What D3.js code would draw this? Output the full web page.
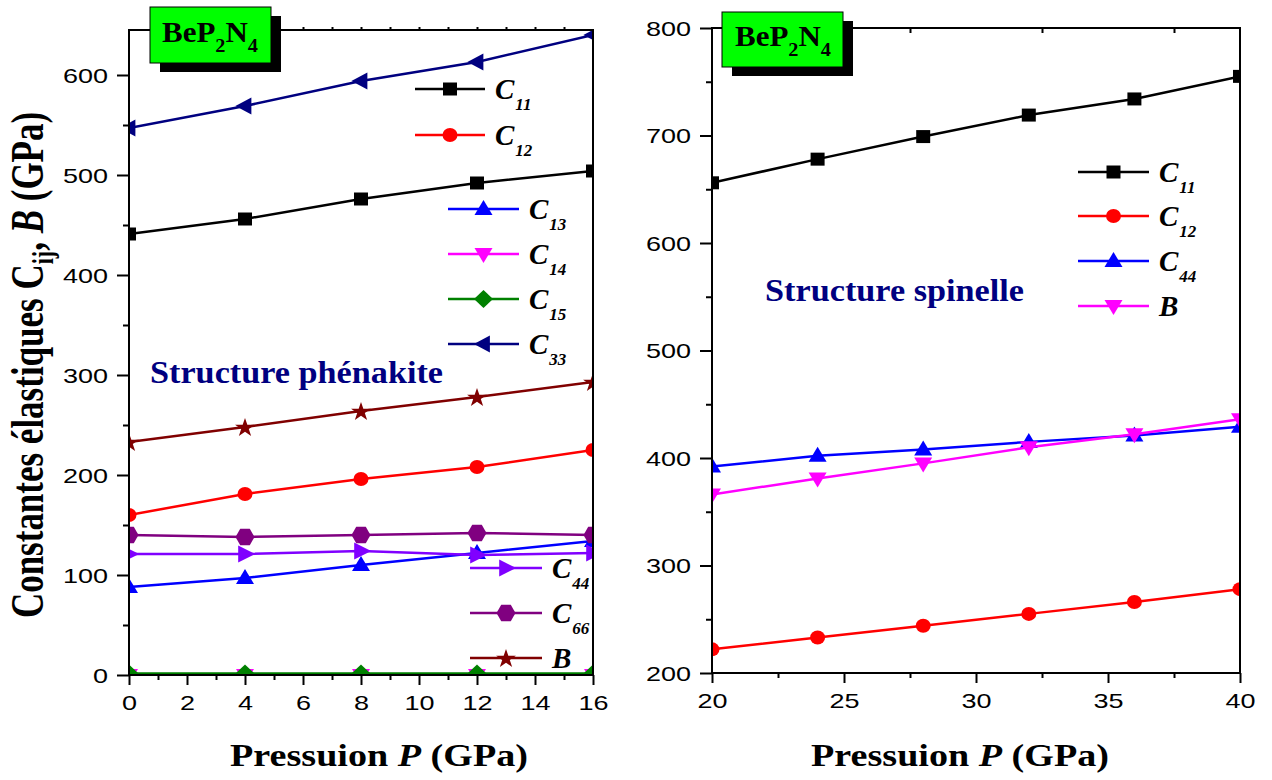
<!DOCTYPE html>
<html>
<head>
<meta charset="utf-8">
<script src="https://cdn.jsdelivr.net/npm/d3@7"></script>
<style>
  body { margin: 0; background: #fff; }
  svg { display: block; }
</style>
</head>
<body>
<svg id="chart" width="1272" height="780"></svg>
<script>
// ---- Phase phénakite (0–16 GPa) ----
const pressurePhen = [0, 4, 8, 12, 16];
const c11Phen = [441, 456, 476, 492, 504];
const c12Phen = [160, 181, 196, 208, 225];
const c13Phen = [88, 97, 110, 122, 134];
const c14Phen = [0, 0, 0, 0, 0];
const c15Phen = [1.5, 1.5, 1.5, 1.5, 1.5];
const c33Phen = [547, 569, 594, 613, 640];
const c44Phen = [121, 121, 124, 120, 122];
const c66Phen = [140, 138, 140, 142, 140];
const bPhen = [233, 248, 264, 278, 293];

// ---- Phase spinelle (20–40 GPa) ----
const pressureSpin = [20, 24, 28, 32, 36, 40];
const c11Spin = [656, 678, 699, 719, 734, 755];
const c12Spin = [222, 233, 244, 255, 266, 278];
const c44Spin = [392, 402, 408, 415, 421, 429];
const bSpin = [366, 381, 395, 410, 422, 436];

// ---- Tick values ----
const xTicksPhen = [0, 2, 4, 6, 8, 10, 12, 14, 16];
const xMinorPhen = [1, 3, 5, 7, 9, 11, 13, 15];
const xTopPhen = [1, 2, 3, 4, 5, 6, 7, 8, 9, 10, 11, 12, 13, 14, 15];
const yTicksPhen = [0, 100, 200, 300, 400, 500, 600];
const yMinorPhen = [50, 150, 250, 350, 450, 550];
const xTicksSpin = [20, 25, 30, 35, 40];
const xMinorSpin = [22.5, 27.5, 32.5, 37.5];
const yTicksSpin = [200, 300, 400, 500, 600, 700, 800];
const yMinorSpin = [250, 350, 450, 550, 650, 750];

const svg = d3.select("#chart");
const SERIF = "'Liberation Serif', 'Times New Roman', serif";
const SANS = "'Liberation Sans', Arial, sans-serif";

// Marker shapes drawn in a unit box, scaled per series
const shapes = {
  square: { draw(c) { c.rect(-0.5, -0.5, 1, 1); } },
  circle: { draw(c) { c.moveTo(0.5, 0); c.arc(0, 0, 0.5, 0, 2 * Math.PI); } },
  up: { draw(c) { c.moveTo(0, -0.6); c.lineTo(0.5, 0.4); c.lineTo(-0.5, 0.4); c.closePath(); } },
  down: { draw(c) { c.moveTo(0, 0.6); c.lineTo(0.5, -0.4); c.lineTo(-0.5, -0.4); c.closePath(); } },
  left: { draw(c) { c.moveTo(-0.6, 0); c.lineTo(0.4, -0.5); c.lineTo(0.4, 0.5); c.closePath(); } },
  right: { draw(c) { c.moveTo(0.6, 0); c.lineTo(-0.4, -0.5); c.lineTo(-0.4, 0.5); c.closePath(); } },
  diamond: { draw(c) { c.moveTo(0, -0.5); c.lineTo(0.5, 0); c.lineTo(0, 0.5); c.lineTo(-0.5, 0); c.closePath(); } },
  hexagon: { draw(c) {
    for (let i = 0; i < 6; i++) {
      const a = i * Math.PI / 3, px = 0.5 * Math.cos(a), py = 0.5 * Math.sin(a);
      if (i) c.lineTo(px, py); else c.moveTo(px, py);
    }
    c.closePath();
  } },
  star: { draw(c) {
    for (let i = 0; i < 10; i++) {
      const r = i % 2 ? 0.21 : 0.55, a = -Math.PI / 2 + i * Math.PI / 5;
      const px = r * Math.cos(a), py = r * Math.sin(a) + 0.05;
      if (i) c.lineTo(px, py); else c.moveTo(px, py);
    }
    c.closePath();
  } }
};
const markerSize = {
  square: [14, 13], circle: [15, 14], up: [18, 15], down: [18, 15],
  left: [16, 17], right: [17, 17], diamond: [19, 18], hexagon: [19, 19], star: [19, 18]
};
const symbolPath = t => d3.symbol().type(shapes[t]).size(1)();

const panels = [
  {
    id: "phen",
    x: d3.scaleLinear().domain([0, 16]).range([129, 593]),
    y: d3.scaleLinear().domain([0, 645]).range([675, 30]),
    xTicks: xTicksPhen, xMinor: xMinorPhen, xTop: xTopPhen, topInward: false,
    yTicks: yTicksPhen, yMinor: yMinorPhen,
    pressure: pressurePhen,
    series: [
      { sub: "11", values: c11Phen, color: "#000000", shape: "square", leg: [415, 485, 89] },
      { sub: "12", values: c12Phen, color: "#ff0000", shape: "circle", leg: [415, 485, 135] },
      { sub: "13", values: c13Phen, color: "#0000ff", shape: "up", leg: [448, 519, 209] },
      { sub: "14", values: c14Phen, color: "#ff00ff", shape: "down", leg: [448, 519, 254] },
      { sub: "15", values: c15Phen, color: "#008000", shape: "diamond", leg: [448, 519, 299] },
      { sub: "33", values: c33Phen, color: "#000080", shape: "left", leg: [448, 519, 344] },
      { sub: "44", values: c44Phen, color: "#8000ff", shape: "right", leg: [470, 542, 568] },
      { sub: "66", values: c66Phen, color: "#800080", shape: "hexagon", leg: [470, 542, 613] },
      { sub: null, values: bPhen, color: "#800000", shape: "star", leg: [470, 542, 658] }
    ],
    badge: [150, 7, 121, 56],
    badgeText: [162, 42],
    structure: { text: "Structure phénakite", x: 150, y: 383, w: 293 },
    title: [379, 766]
  },
  {
    id: "spin",
    x: d3.scaleLinear().domain([20, 40]).range([712, 1240]),
    y: d3.scaleLinear().domain([200, 800]).range([673, 28]),
    xTicks: xTicksSpin, xMinor: xMinorSpin, xTop: xMinorSpin, topInward: true,
    yTicks: yTicksSpin, yMinor: yMinorSpin,
    pressure: pressureSpin,
    series: [
      { sub: "11", values: c11Spin, color: "#000000", shape: "square", leg: [1078, 1149, 172] },
      { sub: "12", values: c12Spin, color: "#ff0000", shape: "circle", leg: [1078, 1149, 216] },
      { sub: "44", values: c44Spin, color: "#0000ff", shape: "up", leg: [1078, 1149, 261] },
      { sub: null, values: bSpin, color: "#ff00ff", shape: "down", leg: [1078, 1149, 306] }
    ],
    badge: [722, 12, 121, 55],
    badgeText: [735, 46],
    structure: { text: "Structure spinelle", x: 765, y: 301, w: 259 },
    title: [960, 766]
  }
];

const TICK_SX = 1.35;   // wide tick-label lettering

panels.forEach(p => {
  const [x0, x1] = p.x.range();
  const [yb, yt] = p.y.range();
  const g = svg.append("g");

  // clip region for the data marks
  const clipId = "clip-" + p.id;
  svg.append("clipPath").attr("id", clipId)
    .append("rect").attr("x", x0).attr("y", yt).attr("width", x1 - x0).attr("height", yb - yt);

  // --- data ---
  const data = g.append("g").attr("clip-path", `url(#${clipId})`);
  const line = d3.line().x(d => p.x(d[0])).y(d => p.y(d[1]));
  p.series.forEach(s => {
    const pts = p.pressure.map((px, i) => [px, s.values[i]]);
    data.append("path").attr("d", line(pts))
      .attr("fill", "none").attr("stroke", s.color).attr("stroke-width", 2.5);
    const [mw, mh] = markerSize[s.shape];
    data.selectAll(null).data(pts).enter().append("path")
      .attr("d", symbolPath(s.shape))
      .attr("transform", d => `translate(${p.x(d[0])},${p.y(d[1])}) scale(${mw},${mh})`)
      .attr("fill", s.color);
  });

  // --- frame ---
  g.append("rect").attr("x", x0).attr("y", yt).attr("width", x1 - x0).attr("height", yb - yt)
    .attr("fill", "none").attr("stroke", "#000").attr("stroke-width", 2);

  // --- axes ---
  const styleAxis = sel => {
    sel.select(".domain").remove();
    sel.selectAll(".tick line").attr("stroke", "#000").attr("stroke-width", 2);
  };
  // bottom major
  const xb = g.append("g").attr("transform", `translate(0,${yb})`)
    .call(d3.axisBottom(p.x).tickValues(p.xTicks).tickSize(10).tickFormat(d3.format("d")));
  styleAxis(xb);
  xb.selectAll("text")
    .attr("font-family", SANS).attr("font-size", 20).attr("fill", "#000")
    .attr("y", 21).attr("dy", "0.71em")
    .attr("transform", `scale(${TICK_SX},1)`);
  // bottom minor
  styleAxis(g.append("g").attr("transform", `translate(0,${yb})`)
    .call(d3.axisBottom(p.x).tickValues(p.xMinor).tickSize(5).tickFormat("")));
  // top small ticks
  styleAxis(g.append("g").attr("transform", `translate(0,${yt})`)
    .call(d3.axisTop(p.x).tickValues(p.xTop).tickSize(p.topInward ? -5 : 3).tickFormat("")));

  // left major
  const yl = g.append("g").attr("transform", `translate(${x0},0)`)
    .call(d3.axisLeft(p.y).tickValues(p.yTicks).tickSize(12).tickFormat(d3.format("d")));
  styleAxis(yl);
  yl.selectAll("text")
    .attr("font-family", SANS).attr("font-size", 20).attr("fill", "#000")
    .attr("x", -21 / TICK_SX).attr("dy", "0.36em")
    .attr("transform", `scale(${TICK_SX},1)`);
  // left minor
  styleAxis(g.append("g").attr("transform", `translate(${x0},0)`)
    .call(d3.axisLeft(p.y).tickValues(p.yMinor).tickSize(6).tickFormat("")));

  // --- legend ---
  p.series.forEach(s => {
    const [lx0, lx1, ly] = s.leg;
    g.append("line").attr("x1", lx0).attr("x2", lx1).attr("y1", ly).attr("y2", ly)
      .attr("stroke", s.color).attr("stroke-width", 2.5);
    const [mw, mh] = markerSize[s.shape];
    g.append("path").attr("d", symbolPath(s.shape))
      .attr("transform", `translate(${(lx0 + lx1) / 2},${ly}) scale(${mw},${mh})`)
      .attr("fill", s.color);
    const t = g.append("text").attr("x", lx1 + 10).attr("y", ly + 10)
      .attr("font-family", SERIF).attr("font-weight", "bold").attr("font-style", "italic")
      .attr("font-size", 29).attr("fill", "#000");
    if (s.sub) {
      t.append("tspan").text("C");
      t.append("tspan").attr("font-size", 17).attr("dx", 1).attr("dy", 11).text(s.sub);
    } else {
      t.text("B");
    }
  });

  // --- structure label ---
  g.append("text").attr("x", p.structure.x).attr("y", p.structure.y)
    .attr("font-family", SERIF).attr("font-weight", "bold").attr("font-size", 31)
    .attr("fill", "#000080")
    .attr("textLength", p.structure.w).attr("lengthAdjust", "spacingAndGlyphs")
    .text(p.structure.text);

  // --- compound badge ---
  const [bx, by, bw, bh] = p.badge;
  g.append("rect").attr("x", bx + 10).attr("y", by + 9).attr("width", bw).attr("height", bh).attr("fill", "#000");
  g.append("rect").attr("x", bx).attr("y", by).attr("width", bw).attr("height", bh)
    .attr("fill", "#00ff00").attr("stroke", "#000").attr("stroke-width", 1);
  const bt = g.append("text").attr("x", p.badgeText[0]).attr("y", p.badgeText[1])
    .attr("font-family", SERIF).attr("font-weight", "bold").attr("font-size", 29).attr("fill", "#000")
    .attr("textLength", 96).attr("lengthAdjust", "spacingAndGlyphs");
  bt.append("tspan").text("BeP");
  bt.append("tspan").attr("font-size", 19).attr("dy", 10).text("2");
  bt.append("tspan").attr("dy", -10).text("N");
  bt.append("tspan").attr("font-size", 19).attr("dy", 10).text("4");

  // --- x title ---
  const xt = g.append("text")
    .attr("transform", `translate(${p.title[0]},${p.title[1]}) scale(1.23,1)`)
    .attr("text-anchor", "middle")
    .attr("font-family", SERIF).attr("font-weight", "bold").attr("font-size", 31).attr("fill", "#000");
  xt.append("tspan").text("Pressuion ");
  xt.append("tspan").attr("font-style", "italic").text("P");
  xt.append("tspan").text(" (GPa)");
});

// --- y title (left panel) ---
const yTitle = svg.append("text")
  .attr("transform", "translate(43,365) rotate(-90) scale(1,1.3)")
  .attr("text-anchor", "middle")
  .attr("font-family", SERIF).attr("font-weight", "bold").attr("font-size", 35).attr("fill", "#000");
yTitle.append("tspan").text("Constantes élastiques C");
yTitle.append("tspan").attr("font-size", 22).attr("dy", 8).text("ij");
yTitle.append("tspan").attr("dy", -8).text(", ");
yTitle.append("tspan").attr("font-style", "italic").text("B");
yTitle.append("tspan").text(" (GPa)");
</script>
</body>
</html>
